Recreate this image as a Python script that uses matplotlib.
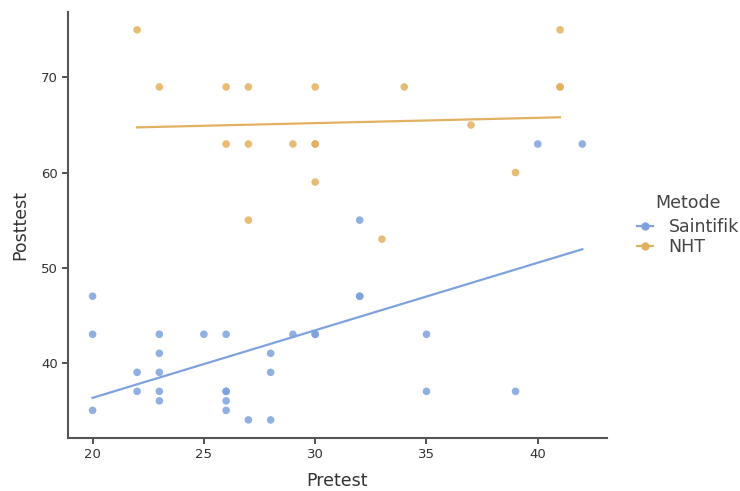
import numpy as np
import matplotlib.pyplot as plt
from matplotlib.lines import Line2D

# Saintifik group
sai_pre = [20, 20, 20, 22, 22, 23, 23, 23, 23, 23, 25, 26, 26, 26, 26, 26,
           27, 28, 28, 28, 29, 30, 30, 32, 32, 32, 35, 35, 39, 40, 42]
sai_post = [47, 43, 35, 39, 37, 43, 41, 39, 37, 36, 43, 43, 37, 37, 36, 35,
            34, 41, 39, 34, 43, 43, 43, 55, 47, 47, 43, 37, 37, 63, 63]

# NHT group
nht_pre = [22, 23, 26, 27, 30, 34, 41, 41, 41, 26, 27, 29, 30, 30, 27, 30, 33, 37, 39]
nht_post = [75, 69, 69, 69, 69, 69, 75, 69, 69, 63, 63, 63, 63, 63, 55, 59, 53, 65, 60]

groups = ['Saintifik', 'NHT']
colors = ['#7fa1dd', '#e2b15f']

fig = plt.figure(figsize=(7.4, 4.91), dpi=100)
ax = fig.add_axes([0.092, 0.108, 0.728, 0.868])

for name, xs, ys, c in zip(groups, [sai_pre, nht_pre], [sai_post, nht_post], colors):
    xs = np.array(xs, dtype=float)
    ys = np.array(ys, dtype=float)
    ax.scatter(xs, ys, s=30, color=c, alpha=0.85, edgecolors='none', zorder=3)
    b, a = np.polyfit(xs, ys, 1)
    xl = np.array([xs.min(), xs.max()])
    ax.plot(xl, a + b * xl, color=c, lw=1.6, zorder=2)

ax.set_xlim(18.9, 43.1)
ax.set_ylim(32.1, 76.9)
ax.set_xticks([20, 25, 30, 35, 40])
ax.set_yticks([40, 50, 60, 70])

for s in ['top', 'right']:
    ax.spines[s].set_visible(False)
for s in ['left', 'bottom']:
    ax.spines[s].set_color('#555555')
    ax.spines[s].set_linewidth(1.5)
ax.tick_params(colors='#333333', labelsize=9.5, length=4, width=1.2)
for lab in ax.get_xticklabels() + ax.get_yticklabels():
    lab.set_color('#333333')

ax.set_xlabel('Pretest', fontsize=12.5, color='#333333', labelpad=8)
ax.set_ylabel('Posttest', fontsize=12.5, color='#333333', labelpad=8)

handles = [Line2D([0], [0], color=c, lw=1.6, marker='o', markersize=5)
           for c in colors]
leg = fig.legend(handles, groups, title='Metode', loc='center left',
                 bbox_to_anchor=(0.852, 0.542), frameon=False,
                 fontsize=12.5, title_fontsize=12.5, handlelength=0.9,
                 handletextpad=0.9, labelspacing=0.1, borderaxespad=0)
for t in leg.get_texts():
    t.set_color('#444444')
leg.get_title().set_color('#444444')
leg._legend_box.sep = 5

fig.savefig('out.png', dpi=100)
